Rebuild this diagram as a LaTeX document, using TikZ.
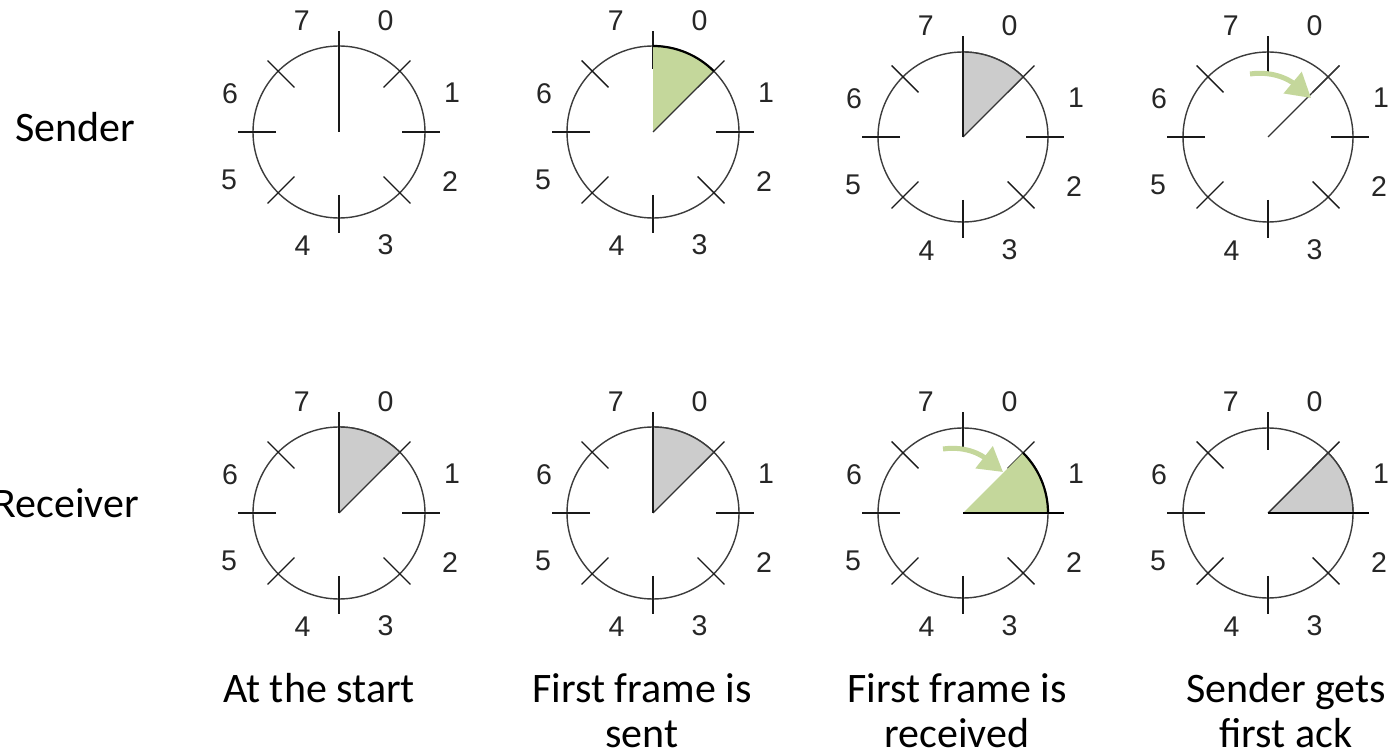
\documentclass[tikz,border=0pt]{standalone}
\usepackage{fontspec}
\setmainfont{Carlito}
\newfontfamily\digitfont{Liberation Sans}
\usetikzlibrary{arrows.meta}
\definecolor{sectgreen}{RGB}{196,215,155}
\definecolor{sectgray}{RGB}{204,204,204}
\definecolor{rimcol}{RGB}{60,60,60}
\tikzset{
  rimline/.style={draw=rimcol,line width=1.4pt},
  tickline/.style={draw=black!90,line width=1.4pt},
  edgeline/.style={draw=black!80,line width=1.4pt},
  boldline/.style={draw=black,line width=2.6pt},
  digit/.style={font=\digitfont\fontsize{28.5}{28.5}\selectfont,text=black!85,inner sep=0pt},
  lbl/.style={font=\fontsize{42}{45}\selectfont,inner sep=0pt},
  greenarrow/.style={draw=sectgreen,line width=5pt,-{Triangle[length=24pt,width=27pt]}},
}
% name, x, y, radius
\newcommand\clockface[4]{%
  \coordinate (#1) at (#2,#3);
  \draw[rimline] (#1) circle[radius=#4];
  \foreach \a in {0,45,...,315}
    \draw[tickline] ([shift={(\a:63)}]#1) -- ([shift={(\a:101)}]#1);
  \foreach \n/\dx/\dy in {0/46.5/111,1/113/39.5,2/111/-49.7,3/46.5/-113,4/-36.5/-114,5/-110/-48,6/-109/38.7,7/-37.3/111}
    \node[digit] (#1-\n) at ([shift={(\dx,\dy)}]#1) {\n};
}
\begin{document}
\begin{tikzpicture}[x=1pt,y=1pt]
\useasboundingbox (0,0) rectangle (1390,750);
\fill[white] (0,0) rectangle (1390,750);

% ---------- Sender row ----------
\clockface{s1}{339}{618}{86}
\draw[tickline] (s1) -- ([shift={(90:101)}]s1);

\clockface{s2}{653}{618}{86}
\fill[sectgreen] (s2) -- ([shift={(90:86)}]s2) arc[start angle=90,end angle=45,radius=86] -- cycle;
\draw[edgeline] (s2) -- ([shift={(45:86)}]s2);
\draw[boldline,line width=2.2pt] ([shift={(90:86)}]s2) arc[start angle=90,end angle=45,radius=86];

\clockface{s3}{963}{613}{85}
\fill[sectgray] (s3) -- ([shift={(90:85)}]s3) arc[start angle=90,end angle=45,radius=85] -- cycle;
\draw[rimline] ([shift={(90:85)}]s3) arc[start angle=90,end angle=45,radius=85];
\draw[edgeline] (s3) -- ([shift={(45:85)}]s3);
\draw[tickline] (s3) -- ([shift={(90:101)}]s3);

\clockface{s4}{1268}{613}{85}
\draw[edgeline] (s4) -- ([shift={(45:101)}]s4);
\coordinate (s4-a1) at ([shift={(-18,63)}]s4);
\coordinate (s4-a2) at ([shift={(43,39)}]s4);
\draw[greenarrow] (s4-a1) to[out=8,in=140] (s4-a2);

% ---------- Receiver row ----------
\clockface{r1}{339}{237}{86}
\fill[sectgray] (r1) -- ([shift={(90:86)}]r1) arc[start angle=90,end angle=45,radius=86] -- cycle;
\draw[rimline] ([shift={(90:86)}]r1) arc[start angle=90,end angle=45,radius=86];
\draw[edgeline] (r1) -- ([shift={(45:86)}]r1);
\draw[tickline] (r1) -- ([shift={(90:101)}]r1);

\clockface{r2}{653}{237}{86}
\fill[sectgray] (r2) -- ([shift={(90:86)}]r2) arc[start angle=90,end angle=45,radius=86] -- cycle;
\draw[rimline] ([shift={(90:86)}]r2) arc[start angle=90,end angle=45,radius=86];
\draw[edgeline] (r2) -- ([shift={(45:86)}]r2);
\draw[tickline] (r2) -- ([shift={(90:101)}]r2);

\clockface{r3}{963}{237}{85}
\fill[sectgreen] (r3) -- ([shift={(45:85)}]r3) arc[start angle=45,end angle=0,radius=85] -- cycle;
\draw[boldline,line width=2.2pt] ([shift={(45:85)}]r3) arc[start angle=45,end angle=0,radius=85];
\draw[boldline] (r3) -- ([shift={(0:101)}]r3);
\coordinate (r3-a1) at ([shift={(-20,64)}]r3);
\coordinate (r3-a2) at ([shift={(40,41)}]r3);
\draw[greenarrow] (r3-a1) to[out=8,in=142] (r3-a2);

\clockface{r4}{1268}{237}{85}
\fill[sectgray] (r4) -- ([shift={(45:85)}]r4) arc[start angle=45,end angle=0,radius=85] -- cycle;
\draw[rimline] ([shift={(45:85)}]r4) arc[start angle=45,end angle=0,radius=85];
\draw[edgeline] (r4) -- ([shift={(45:85)}]r4);
\draw[boldline,line width=2.2pt] (r4) -- ([shift={(0:101)}]r4);

% ---------- Labels ----------
\node[lbl,anchor=base] (sender) at (75.5,608) {Sender};
\node[lbl,anchor=base east] (receiver) at (139,232) {Receiver};
\node[lbl,anchor=base] (cap1) at (319,47) {At the start};
\node[lbl,anchor=base,align=center] (cap2) at (642,2) {First frame is\\sent};
\node[lbl,anchor=base,align=center] (cap3) at (957,2) {First frame is\\received};
\node[lbl,anchor=base,align=center] (cap4) at (1286,2) {Sender gets\\first ack};
\end{tikzpicture}
\end{document}
